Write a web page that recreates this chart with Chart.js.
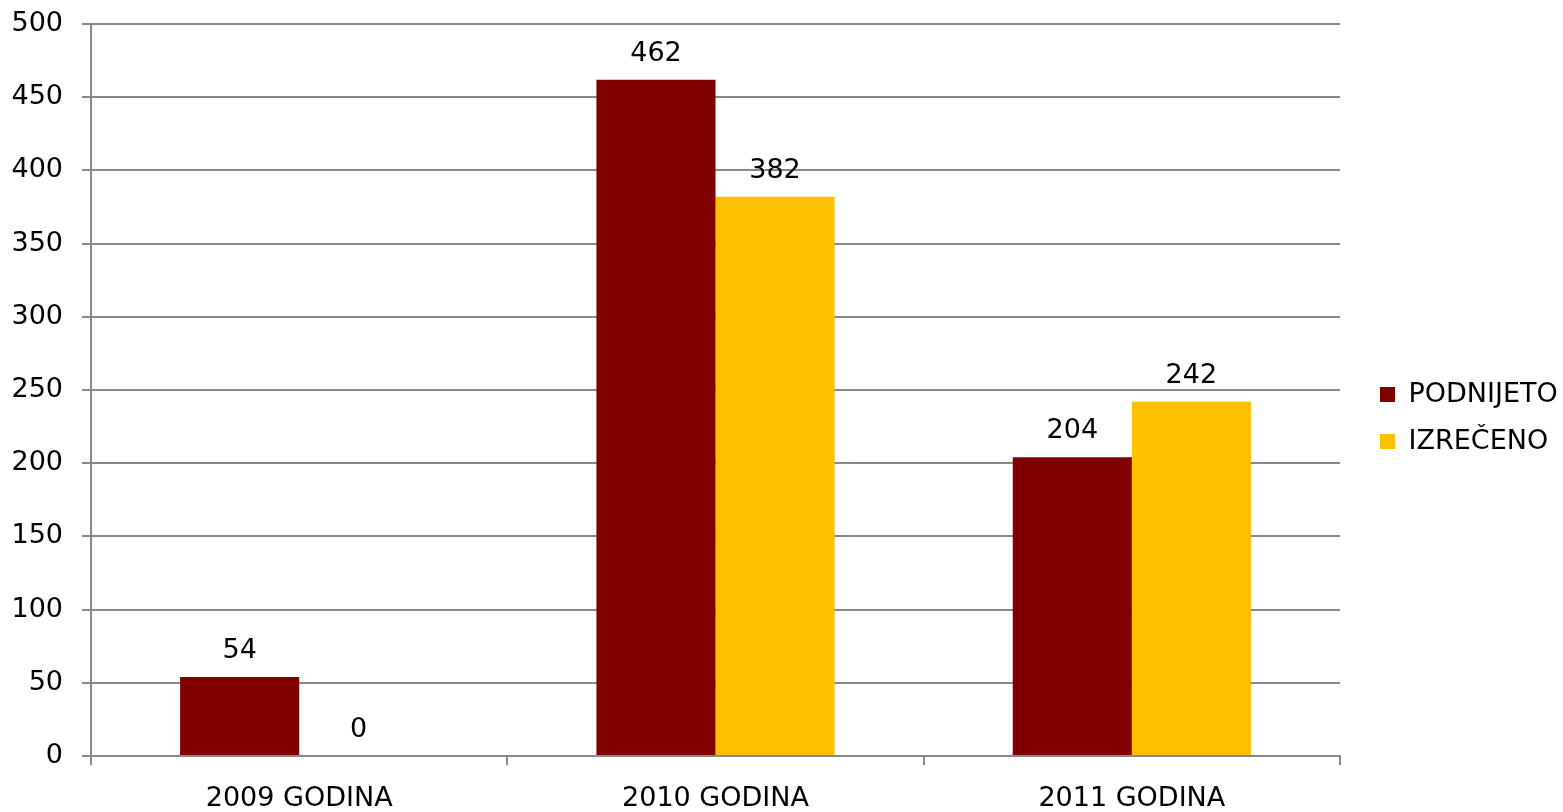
<!DOCTYPE html>
<html>
<head>
<meta charset="utf-8">
<script src="https://cdn.jsdelivr.net/npm/chart.js@4.4.1/dist/chart.umd.min.js"></script>
<style>
html,body{margin:0;padding:0;background:#fff;}
#wrap{width:1563px;height:812px;position:relative;}
</style>
</head>
<body>
<div id="wrap"><canvas id="c" width="1563" height="812"></canvas></div>
<script>
const categories = ["2009 GODINA", "2010 GODINA", "2011 GODINA"];
const podnijeto = [54, 462, 204];
const izreceno = [0, 382, 242];
const seriesNames = ["PODNIJETO", "IZREČENO"];
const yTicks = [0, 50, 100, 150, 200, 250, 300, 350, 400, 450, 500];

const FONT = "'DejaVu Sans', Verdana, sans-serif";
const FS = 27;

const valueLabels = {
  id: 'valueLabels',
  afterDatasetsDraw(chart) {
    const ctx = chart.ctx;
    ctx.save();
    ctx.font = FS + "px " + FONT;
    ctx.fillStyle = '#000';
    ctx.textAlign = 'center';
    ctx.textBaseline = 'middle';
    chart.data.datasets.forEach((ds, i) => {
      const meta = chart.getDatasetMeta(i);
      meta.data.forEach((bar, j) => {
        ctx.fillText(String(ds.data[j]), bar.x, bar.y - 26);
      });
    });
    ctx.restore();
  }
};

// spacer box between plot area and legend, and fixed legend width
const layoutTweaks = {
  id: 'layoutTweaks',
  beforeUpdate(chart) {
    if (chart.$tweaked) return;
    chart.$tweaked = true;
    const spacer = {
      position: 'right', weight: 0, fullSize: false,
      options: {},
      width: 0, height: 0, left: 0, top: 0, right: 0, bottom: 0,
      isHorizontal() { return false; },
      update(maxWidth, maxHeight) { this.width = 20; this.height = maxHeight; },
      draw() {},
      _layers() { return [{ z: 0, draw() {} }]; }
    };
    chart.boxes.push(spacer);
    const lg = chart.legend;
    if (lg) {
      const origFit = lg.fit.bind(lg);
      lg.fit = function () { origFit(); this.width = 203; };
    }
  }
};

new Chart(document.getElementById('c'), {
  type: 'bar',
  data: {
    labels: categories,
    datasets: [
      { label: seriesNames[0], data: podnijeto, backgroundColor: '#800000', borderWidth: 0 },
      { label: seriesNames[1], data: izreceno, backgroundColor: '#FFC000', borderWidth: 0 }
    ]
  },
  options: {
    responsive: false,
    animation: false,
    devicePixelRatio: 1,
    layout: { padding: { top: 24, bottom: 0, left: 0, right: 0 } },
    datasets: { bar: { barPercentage: 1.0, categoryPercentage: 0.572 } },
    plugins: {
      tooltip: { enabled: false },
      legend: {
        position: 'right',
        labels: {
          font: { family: FONT, size: FS },
          color: '#000',
          boxWidth: 15,
          boxHeight: 15,
          padding: 20
        }
      }
    },
    scales: {
      x: {
        grid: { display: true, drawOnChartArea: false, color: '#898989', lineWidth: 2, tickLength: 9, offset: true },
        border: { display: true, color: '#898989', width: 2 },
        ticks: { font: { family: FONT, size: FS }, color: '#000', padding: 18, maxRotation: 0 },
        afterFit(s) { s.height = 56; s.paddingLeft = 0; s.paddingRight = 0; }
      },
      y: {
        min: 0, max: 500,
        afterBuildTicks(s) { s.ticks = yTicks.map(v => ({ value: v })); },
        grid: { color: '#898989', lineWidth: 2, tickLength: 9 },
        border: { display: true, color: '#898989', width: 2 },
        ticks: { font: { family: FONT, size: FS }, color: '#000', padding: 19 },
        afterFit(s) { s.width = 91; s.paddingTop = 0; s.paddingBottom = 0; }
      }
    }
  },
  plugins: [layoutTweaks, valueLabels]
});
</script>
</body>
</html>
